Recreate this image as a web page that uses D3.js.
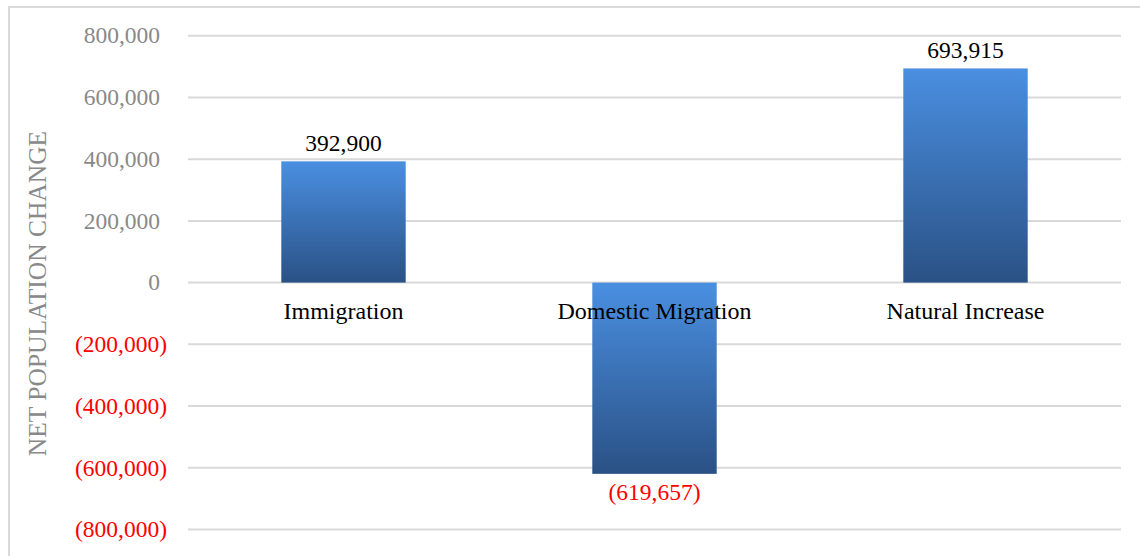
<!DOCTYPE html>
<html>
<head>
<meta charset="utf-8">
<script src="https://cdn.jsdelivr.net/npm/d3@7"></script>
<style>
  html, body { margin: 0; padding: 0; background: #fff; }
  svg { display: block; font-family: "Liberation Serif", "DejaVu Serif", serif; }
</style>
</head>
<body>
<svg id="chart" width="1140" height="556"></svg>
<script>
const categories = ["Immigration", "Domestic Migration", "Natural Increase"];
const values = [392900, -619657, 693915];
const tickValues = [800000, 600000, 400000, 200000, 0, -200000, -400000, -600000, -800000];
const axisTitle = "NET POPULATION CHANGE";

const svg = d3.select("#chart");
const W = 1140, H = 556;

// outer chart border
svg.append("rect")
  .attr("x", 9).attr("y", 7).attr("width", W + 20).attr("height", H + 20)
  .attr("fill", "none").attr("stroke", "#d9d9d9").attr("stroke-width", 2);

const x = d3.scaleBand().domain(categories).range([188, 1121])
  .paddingInner(0.6).paddingOuter(0.3);
const y = d3.scaleLinear().domain([-800000, 800000]).range([529.5, 35.7]);

const fmt = d3.format(",");
const label = v => v < 0 ? "(" + fmt(-v) + ")" : fmt(v);

const defs = svg.append("defs");
const grad = defs.append("linearGradient").attr("id", "barGrad")
  .attr("x1", 0).attr("y1", 0).attr("x2", 0).attr("y2", 1);
grad.append("stop").attr("offset", "0%").attr("stop-color", "#4a8fe1");
grad.append("stop").attr("offset", "100%").attr("stop-color", "#2a5185");

// gridlines
svg.append("g").selectAll("line").data(tickValues).join("line")
  .attr("x1", 188).attr("x2", 1121)
  .attr("y1", d => y(d)).attr("y2", d => y(d))
  .attr("stroke", "#d9d9d9").attr("stroke-width", 2);

// y tick labels
svg.append("g").selectAll("text").data(tickValues).join("text")
  .attr("x", d => d < 0 ? 167 : 160)
  .attr("y", d => y(d))
  .attr("dy", "0.33em")
  .attr("text-anchor", "end")
  .attr("font-size", 23.5)
  .attr("fill", d => d < 0 ? "#ff0000" : "#898989")
  .text(label);

// axis title
svg.append("text")
  .attr("transform", "translate(46," + 293.5 + ") rotate(-90)")
  .attr("text-anchor", "middle")
  .attr("font-size", 25.5)
  .attr("fill", "#898989")
  .text(axisTitle);

// bars
svg.append("g").selectAll("rect").data(values).join("rect")
  .attr("x", (d, i) => x(categories[i]))
  .attr("width", x.bandwidth())
  .attr("y", d => Math.min(y(d), y(0)))
  .attr("height", d => Math.abs(y(d) - y(0)))
  .attr("fill", "url(#barGrad)");

// category labels
svg.append("g").selectAll("text").data(categories).join("text")
  .attr("x", d => x(d) + x.bandwidth() / 2)
  .attr("y", 319)
  .attr("text-anchor", "middle")
  .attr("font-size", 24)
  .attr("fill", "#000")
  .text(d => d);

// value labels
svg.append("g").selectAll("text").data(values).join("text")
  .attr("x", (d, i) => x(categories[i]) + x.bandwidth() / 2)
  .attr("y", d => d < 0 ? y(d) + 26 : y(d) - 10.5)
  .attr("text-anchor", "middle")
  .attr("font-size", 23.5)
  .attr("fill", d => d < 0 ? "#ff0000" : "#000")
  .text(label);
</script>
</body>
</html>
